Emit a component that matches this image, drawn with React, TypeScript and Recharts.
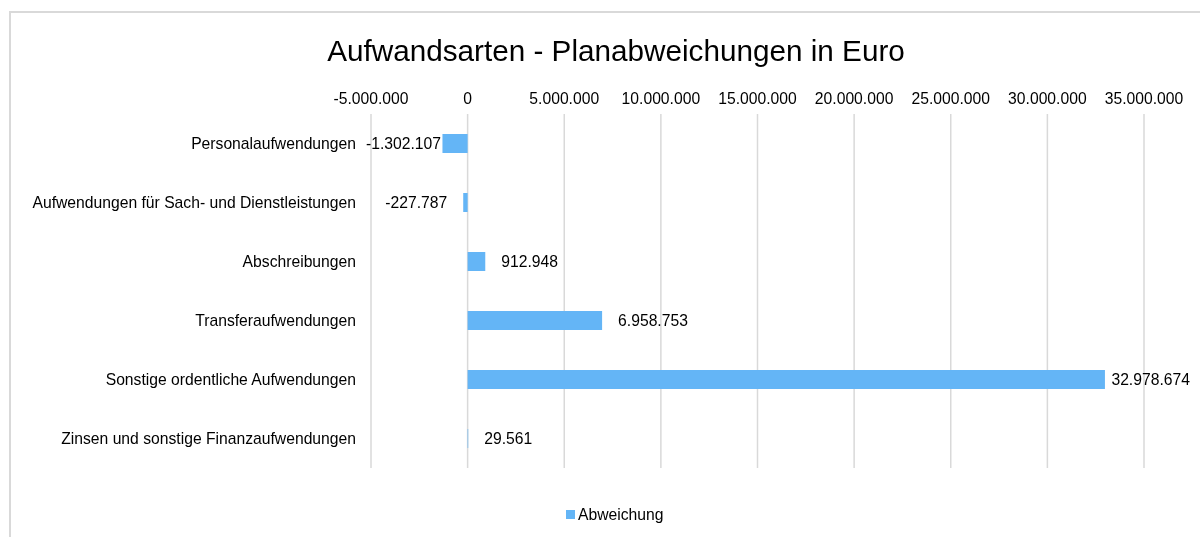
import React from 'react';
import { BarChart, Bar, XAxis, YAxis, CartesianGrid, Legend, LabelList } from 'recharts';

const categories = [
  'Personalaufwendungen',
  'Aufwendungen für Sach- und Dienstleistungen',
  'Abschreibungen',
  'Transferaufwendungen',
  'Sonstige ordentliche Aufwendungen',
  'Zinsen und sonstige Finanzaufwendungen',
];
const deviations = [-1302107, -227787, 912948, 6958753, 32978674, 29561];
const xTicks = [-5000000, 0, 5000000, 10000000, 15000000, 20000000, 25000000, 30000000, 35000000];
const seriesName = 'Abweichung';
const titleText = 'Aufwandsarten - Planabweichungen in Euro';

const data = categories.map((name, i) => ({ name, value: deviations[i] }));

const FONT = '"Liberation Sans", Arial, sans-serif';
const FS = 15.7;
const BLUE = '#64B5F6';
const GRID = '#d9d9d9';
const W = 1184;
const H = 521;

const fmt = (v: number) => {
  const neg = v < 0;
  const s = Math.round(Math.abs(v)).toString();
  const out = s.replace(/\B(?=(\d{3})+(?!\d))/g, '.');
  return (neg ? '-' : '') + out;
};

const estWidth = (t: string) => {
  let w = 0;
  for (const c of t) {
    if (c === '.') w += 0.278;
    else if (c === '-') w += 0.333;
    else w += 0.556;
  }
  return w * FS;
};

const renderValueLabel = (props: any) => {
  const { x, y, width, height, value } = props;
  const v = Number(value);
  const t = fmt(v);
  const w = estWidth(t);
  const bx = Number(x);
  const bw = Number(width);
  const left = Math.min(bx, bx + bw);
  const right = Math.max(bx, bx + bw);
  const cy = Number(y) + Number(height) / 2;
  let tx: number;
  if (v >= 0) {
    tx = right + 16;
    if (tx + w > W - 2) tx = W - 2 - w;
  } else {
    let end = left - 16;
    if (end - w < 358) end = 358 + w;
    tx = end - w;
  }
  return (
    <text x={tx} y={cy} dy="0.355em" textAnchor="start" fontFamily={FONT} fontSize={FS} fill="#000">
      {t}
    </text>
  );
};

const XTick = (props: any) => {
  const { x, payload } = props;
  return (
    <text x={x} y={90} dy="0.355em" textAnchor="middle" fontFamily={FONT} fontSize={FS} fill="#000">
      {fmt(Number(payload.value))}
    </text>
  );
};

const YTick = (props: any) => {
  const { y, payload } = props;
  return (
    <text x={348} y={y} dy="0.355em" textAnchor="end" fontFamily={FONT} fontSize={FS} fill="#000">
      {payload.value}
    </text>
  );
};

const LegendContent = () => (
  <div style={{ display: 'flex', alignItems: 'center', fontFamily: FONT, fontSize: FS, color: '#000', lineHeight: 1 }}>
    <span style={{ display: 'inline-block', width: 9, height: 9, background: BLUE, marginRight: 3 }} />
    <span>{seriesName}</span>
  </div>
);

export default function App() {
  return (
    <div style={{ position: 'relative', width: W, height: H }}>
      <div
        style={{
          position: 'fixed',
          left: 9,
          top: 11,
          width: 1191,
          height: 526,
          boxSizing: 'border-box',
          borderTop: `2px solid ${GRID}`,
          borderLeft: `2px solid ${GRID}`,
          pointerEvents: 'none',
        }}
      />
      <div
        style={{
          position: 'absolute',
          left: 208,
          width: 800,
          top: 28,
          textAlign: 'center',
          fontFamily: FONT,
          fontSize: 29.7,
          lineHeight: '29.7px',
          color: '#000',
          whiteSpace: 'nowrap',
        }}
      >
        {titleText}
      </div>
      <BarChart
        width={W}
        height={H}
        data={data}
        layout="vertical"
        margin={{ top: 76, right: 48, bottom: 45, left: 0 }}
        barSize={19}
      >
        <CartesianGrid horizontal={false} vertical={true} stroke={GRID} strokeWidth={1.5} />
        <XAxis
          type="number"
          orientation="top"
          domain={[-5000000, 35000000]}
          ticks={xTicks}
          height={30}
          axisLine={false}
          tickLine={false}
          tick={<XTick />}
          interval={0}
        />
        <YAxis
          type="category"
          dataKey="name"
          width={363}
          axisLine={false}
          tickLine={false}
          tick={<YTick />}
          interval={0}
        />
        <Legend
          content={<LegendContent />}
          wrapperStyle={{ position: 'absolute', left: 558, top: 499, width: 200, height: 16 }}
        />
        <Bar dataKey="value" name={seriesName} fill={BLUE} isAnimationActive={false}>
          <LabelList dataKey="value" content={renderValueLabel} />
        </Bar>
      </BarChart>
    </div>
  );
}
